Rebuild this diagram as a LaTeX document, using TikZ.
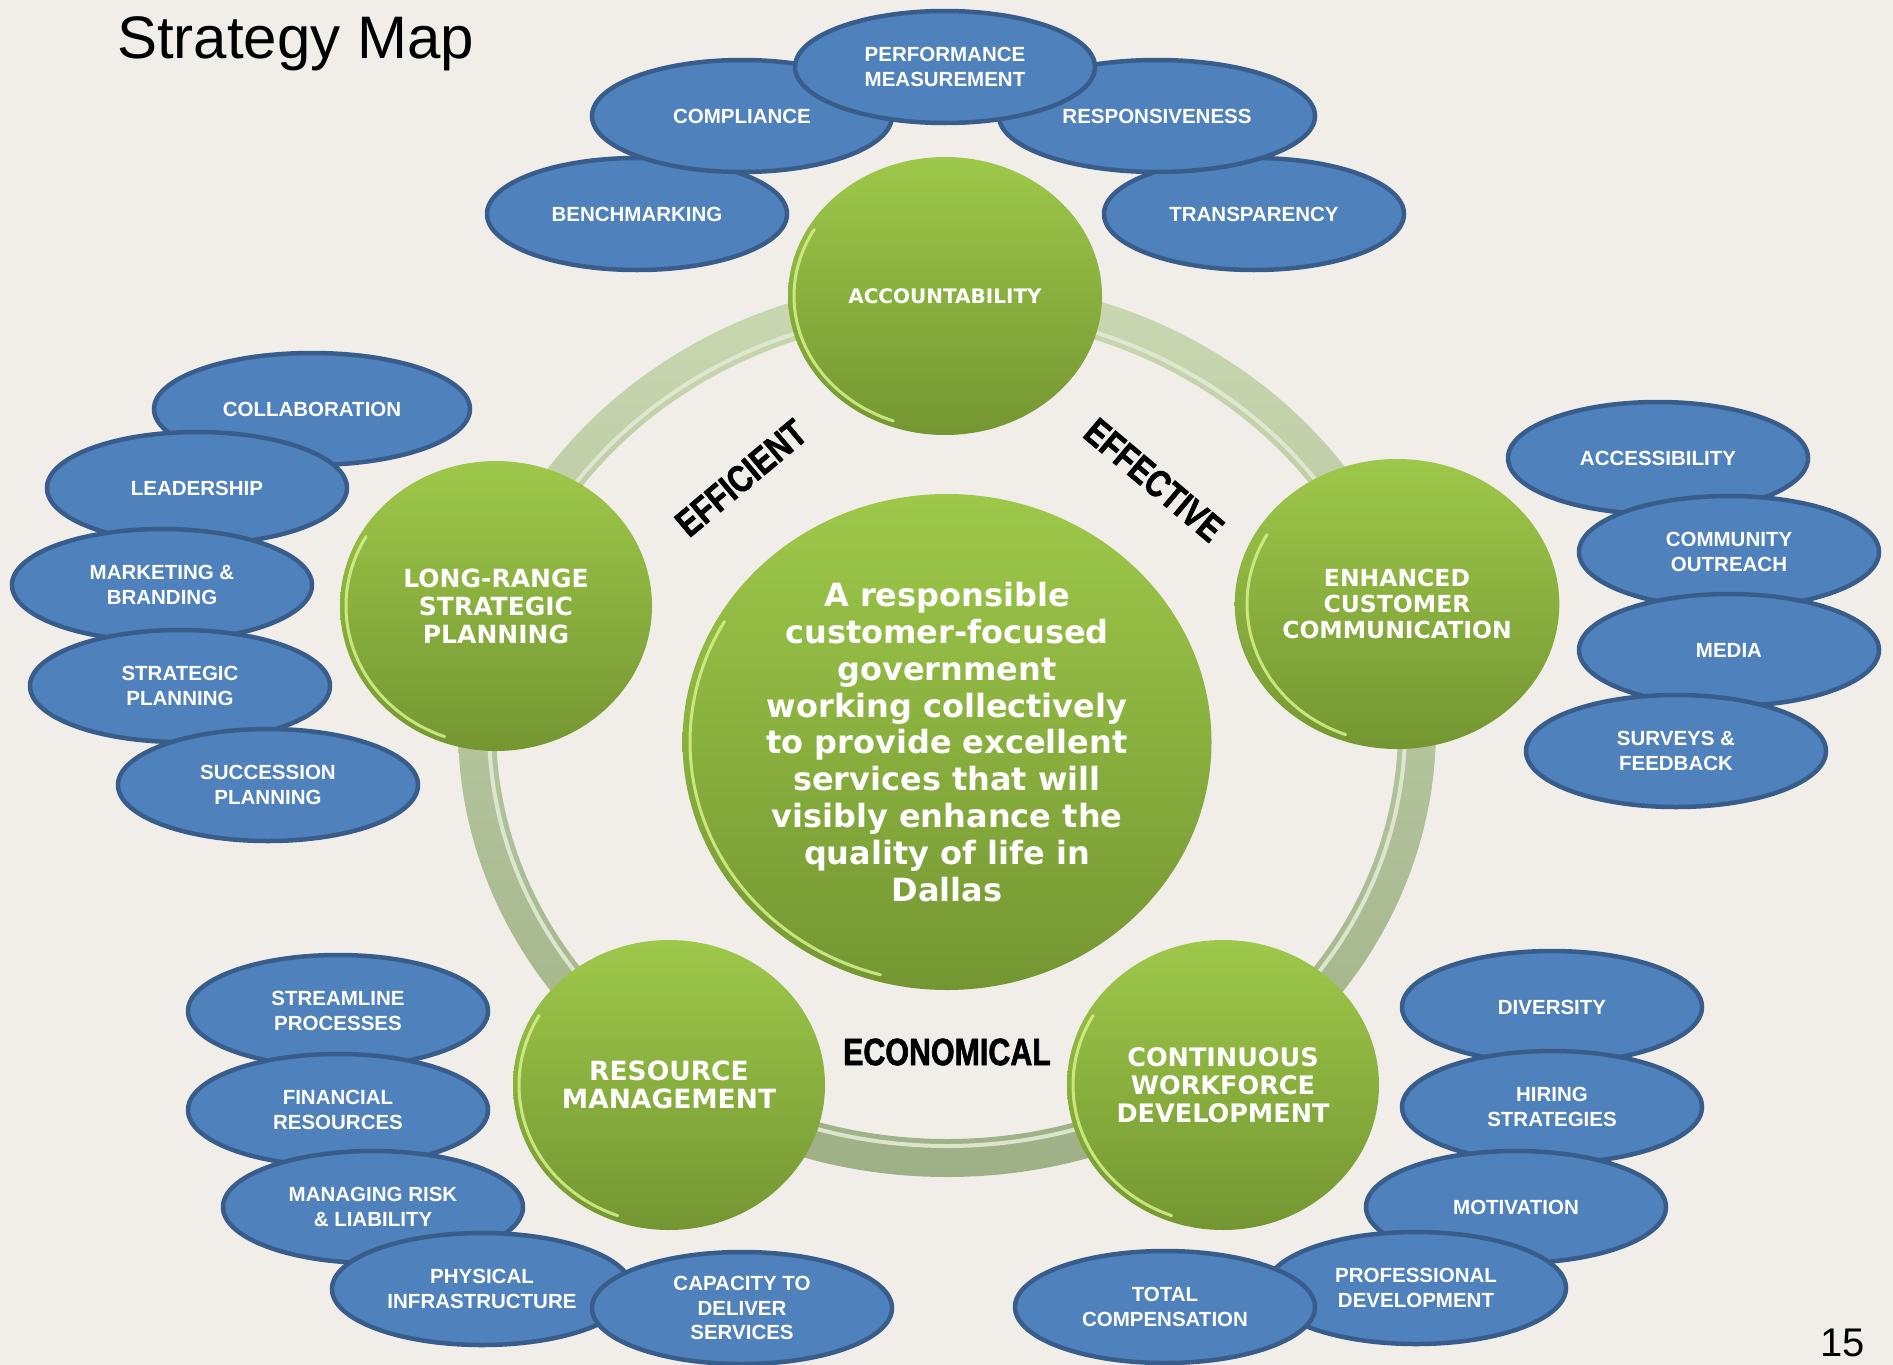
\documentclass[tikz,border=0pt]{standalone}
\usepackage{fontspec}
\setmainfont{Liberation Sans}
\newfontfamily\dvfont{DejaVu Sans}
\newfontfamily\arcfont{Liberation Sans Bold}[FakeStretch=0.8,FakeBold=1.6]
\usetikzlibrary{shapes.geometric}
\definecolor{bg}{RGB}{241,238,233}
\definecolor{bubfill}{RGB}{79,129,189}
\definecolor{bubedge}{RGB}{56,93,138}
\definecolor{gtop}{RGB}{158,200,74}
\definecolor{gbot}{RGB}{116,150,50}
\definecolor{ringtop}{RGB}{202,216,178}
\definecolor{ringbot}{RGB}{158,176,134}
\definecolor{ringhl}{RGB}{226,234,212}
\definecolor{rimhl}{RGB}{214,242,140}
\tikzset{
  bub/.style={ellipse, draw=bubedge, fill=bubfill, line width=4.5pt,
    minimum width=300pt, minimum height=112pt, inner sep=0pt, text=white,
    align=center, font=\fontsize{20.5}{24.5}\selectfont\bfseries},
  gc/.style={ellipse, draw=none, top color=gtop, bottom color=gbot,
    minimum width=312pt, minimum height=290pt, inner sep=0pt, text=white,
    align=center, font=\fontsize{25}{28}\dvfont\bfseries},
  rim/.style={rimhl, line width=3pt, line cap=round, opacity=0.85},
  arclabel/.style={inner sep=0pt, font=\fontsize{38}{40}\arcfont}
}
\begin{document}
\begin{tikzpicture}[x=1pt,y=1pt]
\useasboundingbox (0,0) rectangle (1893,-1365);
\fill[bg] (0,0) rectangle (1893,-1365);

% title and page number
\node[anchor=base west, font=\fontsize{60}{60}\selectfont, inner sep=0pt] (title) at (117,-58) {Strategy Map};
\node[anchor=base east, font=\fontsize{40}{40}\selectfont, inner sep=0pt] (pg) at (1865,-1356) {15};

% ring
\coordinate (rc) at (947,-728);
\shade[top color=ringtop, bottom color=ringbot, even odd rule]
  (rc) ellipse [x radius=489, y radius=449] (rc) ellipse [x radius=451, y radius=411];
\draw[ringhl, line width=4pt, opacity=0.9] (rc) ellipse [x radius=458, y radius=418];

% labels on the ring
\node[arclabel, rotate=40] (efficient) at (741,-478) {EFFICIENT};
\node[arclabel, rotate=-40] (effective) at (1154,-480) {EFFECTIVE};
\node[arclabel, rotate=0] (economical) at (947,-1052) {ECONOMICAL};

% green circles
\node[gc, minimum width=529pt, minimum height=496pt, font=\fontsize{32}{36.8}\dvfont\bfseries] (ctr) at (947,-742)
  {A responsible\\customer-focused\\government\\working collectively\\to provide excellent\\services that will\\visibly enhance the\\quality of life in\\Dallas};
\node[gc, minimum width=314pt, minimum height=278pt, font=\fontsize{20}{24}\dvfont\bfseries] (acc) at (945,-296) {\raisebox{-5pt}{ACCOUNTABILITY}};
\node[gc] (lr) at (496,-606) {LONG-RANGE\\STRATEGIC\\PLANNING};
\node[gc, font=\fontsize{23.5}{26}\dvfont\bfseries] (ecc) at (1397,-604) {ENHANCED\\CUSTOMER\\COMMUNICATION};
\node[gc, font=\fontsize{26.5}{28}\dvfont\bfseries] (rm) at (669,-1085) {RESOURCE\\MANAGEMENT};
\node[gc, font=\fontsize{25.5}{28}\dvfont\bfseries] (cwd) at (1223,-1085) {CONTINUOUS\\WORKFORCE\\DEVELOPMENT};

% rim highlights
\draw[rim] ([shift={(ctr.center)}]150:257 and 241) arc[start angle=150, end angle=255, x radius=257, y radius=241];
\draw[rim] ([shift={(acc.center)}]150:151 and 133) arc[start angle=150, end angle=250, x radius=151, y radius=133];
\draw[rim] ([shift={(lr.center)}]150:150 and 139) arc[start angle=150, end angle=250, x radius=150, y radius=139];
\draw[rim] ([shift={(ecc.center)}]150:150 and 139) arc[start angle=150, end angle=250, x radius=150, y radius=139];
\draw[rim] ([shift={(rm.center)}]150:150 and 139) arc[start angle=150, end angle=250, x radius=150, y radius=139];
\draw[rim] ([shift={(cwd.center)}]150:150 and 139) arc[start angle=150, end angle=250, x radius=150, y radius=139];

% top cluster
\node[bub] (bench) at (637,-214) {BENCHMARKING};
\node[bub] (transp) at (1254,-214) {TRANSPARENCY};
\node[bub] (compl) at (742,-116) {COMPLIANCE};
\node[bub, minimum width=316pt] (resp) at (1157,-116) {RESPONSIVENESS};
\node[bub] (perf) at (945,-67) {PERFORMANCE\\MEASUREMENT};

% left cluster
\node[bub, minimum width=316pt] (collab) at (312,-409) {COLLABORATION};
\node[bub] (lead) at (197,-488) {LEADERSHIP};
\node[bub] (mkt) at (162,-585) {MARKETING \&\\BRANDING};
\node[bub] (strat) at (180,-686) {STRATEGIC\\PLANNING};
\node[bub] (succ) at (268,-785) {SUCCESSION\\PLANNING};

% right cluster
\node[bub] (access) at (1658,-458) {ACCESSIBILITY};
\node[bub] (comm) at (1729,-552) {COMMUNITY\\OUTREACH};
\node[bub] (media) at (1729,-650) {MEDIA};
\node[bub] (surv) at (1676,-751) {SURVEYS \&\\FEEDBACK};

% bottom-left cluster
\node[bub] (stream) at (338,-1011) {STREAMLINE\\PROCESSES};
\node[bub] (fin) at (338,-1110) {FINANCIAL\\RESOURCES};
\node[bub] (risk) at (373,-1207) {MANAGING RISK\\\& LIABILITY};
\node[bub] (phys) at (482,-1289) {PHYSICAL\\INFRASTRUCTURE};
\node[bub] (capac) at (742,-1308) {CAPACITY TO\\DELIVER\\SERVICES};

% bottom-right cluster
\node[bub] (div) at (1552,-1007) {DIVERSITY};
\node[bub] (hire) at (1552,-1107) {HIRING\\STRATEGIES};
\node[bub] (motiv) at (1516,-1207) {MOTIVATION};
\node[bub] (prof) at (1416,-1288) {PROFESSIONAL\\DEVELOPMENT};
\node[bub] (total) at (1165,-1307) {TOTAL\\COMPENSATION};
\end{tikzpicture}
\end{document}
